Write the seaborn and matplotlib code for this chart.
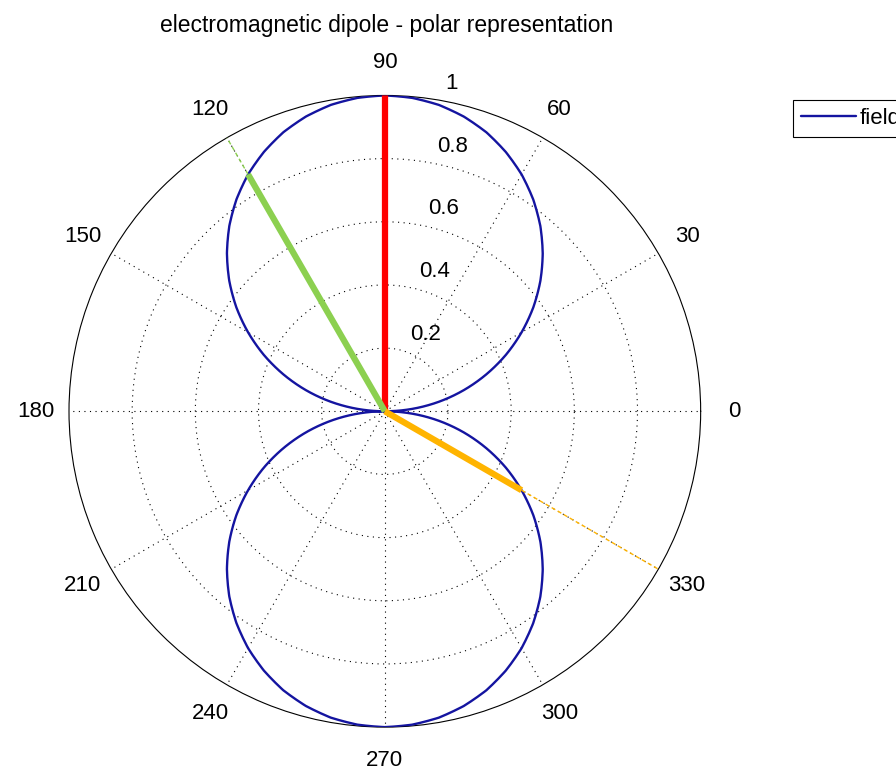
import numpy as np
import pandas as pd
import matplotlib
matplotlib.use("Agg")
import matplotlib.pyplot as plt
import seaborn as sns

# field pattern, every 5 degrees
angle_deg = np.arange(0, 361, 5)
field_r = [0.000, 0.087, 0.174, 0.259, 0.342, 0.423, 0.500, 0.574, 0.643, 0.707,
           0.766, 0.819, 0.866, 0.906, 0.940, 0.966, 0.985, 0.996, 1.000,
           0.996, 0.985, 0.966, 0.940, 0.906, 0.866, 0.819, 0.766, 0.707, 0.643,
           0.574, 0.500, 0.423, 0.342, 0.259, 0.174, 0.087, 0.000,
           0.087, 0.174, 0.259, 0.342, 0.423, 0.500, 0.574, 0.643, 0.707,
           0.766, 0.819, 0.866, 0.906, 0.940, 0.966, 0.985, 0.996, 1.000,
           0.996, 0.985, 0.966, 0.940, 0.906, 0.866, 0.819, 0.766, 0.707, 0.643,
           0.574, 0.500, 0.423, 0.342, 0.259, 0.174, 0.087, 0.000]

# the three direction rays: angle, length of thick part
ray_angles = [90, 120, 330]
ray_lengths = [1.0, 0.866, 0.5]
ray_colors = ["#ff0000", "#8cd050", "#ffb400"]

theta_ticks = [0, 30, 60, 90, 120, 150, 180, 210, 240, 270, 300, 330]
r_ticks = [0.2, 0.4, 0.6, 0.8, 1.0]

sns.set_style("white")
plt.rcParams["font.family"] = ["Liberation Sans", "DejaVu Sans"]
plt.rcParams["text.color"] = "black"

fig = plt.figure(figsize=(8.96, 7.76), dpi=100)
ax = fig.add_axes([0.077, 0.063, 0.705, 0.814], projection="polar")

df = pd.DataFrame({"theta": np.deg2rad(angle_deg), "r": field_r})
sns.lineplot(data=df, x="theta", y="r", ax=ax, color="#1414a0", linewidth=1.7,
             sort=False, estimator=None, label="field", zorder=3)
# let the polar transform draw the curve smoothly between samples
ax.lines[0].get_path()._interpolation_steps = 10

for a, l, c in zip(ray_angles, ray_lengths, ray_colors):
    t = np.deg2rad(a)
    ax.plot([t, t], [0, l], color=c, linewidth=4.5, solid_capstyle="butt", zorder=4)
    if l < 1:
        ax.plot([t, t], [l, 1], color=c, linewidth=1, linestyle=(0, (3, 2)), zorder=4)

ax.set_ylim(0, 1)
ax.set_rticks(r_ticks[:-1])
ax.set_yticklabels([])
ax.set_xticks(np.deg2rad(theta_ticks))
ax.set_xticklabels([])
ax.set_xlabel("")
ax.set_ylabel("")
ax.grid(True, linestyle=(0, (1, 4)), color="black", linewidth=0.8)
ax.spines["polar"].set_color("black")
ax.spines["polar"].set_linewidth(0.8)

# angle labels just outside the outer ring
for t in theta_ticks:
    ax.text(np.deg2rad(t), 1.105, str(t), ha="center", va="center",
            fontsize=16, color="black", clip_on=False)

for r in r_ticks:
    ax.annotate(f"{r:g}", xy=(np.deg2rad(82), r), xytext=(12, 3),
                textcoords="offset points", ha="left", va="bottom",
                fontsize=16, color="black")

fig.suptitle("electromagnetic dipole - polar representation", x=0.432, y=0.982,
             fontsize=16.5, color="black")

leg = ax.legend(loc="upper left", bbox_to_anchor=(0.885, 0.871),
                bbox_transform=fig.transFigure, fontsize=16, frameon=True,
                fancybox=False, edgecolor="black", handlelength=2.5,
                handletextpad=0.15, borderaxespad=0, borderpad=0.35, framealpha=1)
leg.get_frame().set_linewidth(0.8)
for txt in leg.get_texts():
    txt.set_color("black")

fig.savefig("out.png", dpi=100)
